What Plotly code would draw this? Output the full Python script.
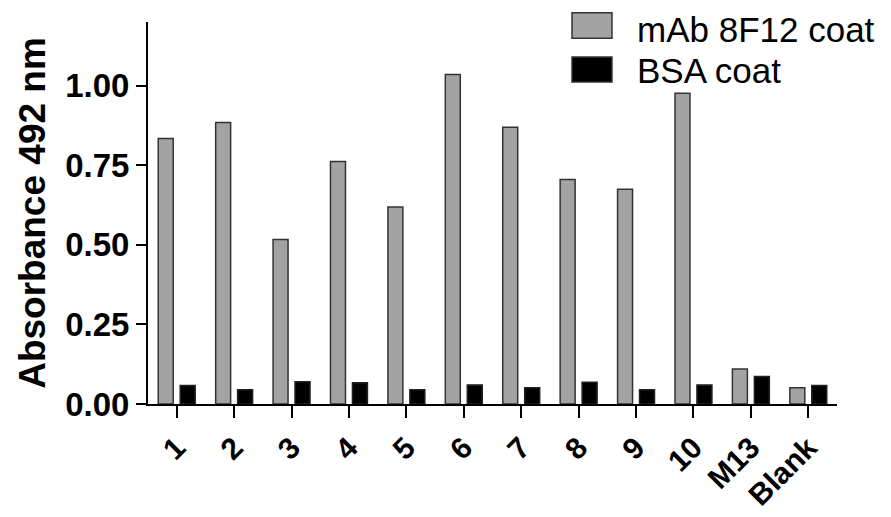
import plotly.graph_objects as go

categories = ["1", "2", "3", "4", "5", "6", "7", "8", "9", "10", "M13", "Blank"]
mab_8f12 = [0.834, 0.884, 0.517, 0.762, 0.619, 1.035, 0.869, 0.705, 0.675, 0.976, 0.110, 0.051]
bsa = [0.058, 0.045, 0.070, 0.067, 0.045, 0.060, 0.051, 0.068, 0.045, 0.060, 0.086, 0.058]
series_names = ["mAb 8F12 coat", "BSA coat"]
y_ticks = [0.0, 0.25, 0.5, 0.75, 1.0]

FONT = "Arial, Liberation Sans, sans-serif"
GRAY = "#a3a3a3"

fig = go.Figure()
fig.add_trace(go.Bar(x=categories, y=mab_8f12, name=series_names[0],
                     marker=dict(color=GRAY, line=dict(color="#333333", width=1.5))))
fig.add_trace(go.Bar(x=categories, y=bsa, name=series_names[1],
                     marker=dict(color="black", line=dict(color="#222222", width=1.5))))

fig.update_layout(
    width=883, height=509,
    margin=dict(l=140, r=54, t=14, b=113, autoexpand=False),
    paper_bgcolor="white", plot_bgcolor="white",
    barmode="group", bargap=0.235, bargroupgap=0.318,
    showlegend=False,
    font=dict(family=FONT, color="black"),
)
fig.update_xaxes(
    type="category", range=[-0.5, 11.5],
    showline=True, linecolor="black", linewidth=2,
    ticks="outside", ticklen=12, tickwidth=2, tickcolor="black",
    tickangle=-45, tickfont=dict(family=FONT, size=30, color="black", weight="bold"),
    showgrid=False, zeroline=False, automargin=False,
)
fig.update_yaxes(
    range=[0, 1.2], tickvals=y_ticks, tickformat=".2f",
    showline=True, linecolor="black", linewidth=2,
    ticks="outside", ticklen=10, tickwidth=2, tickcolor="black",
    tickfont=dict(family=FONT, size=33, color="black", weight="bold"),
    title=dict(text="Absorbance 492 nm", font=dict(family=FONT, size=37, color="black", weight="bold"), standoff=8),
    showgrid=False, zeroline=False, automargin=False,
)

# custom legend (large swatches like the original)
legend_items = [(series_names[0], GRAY, 1.0244, 0.9573, 0.9815),
                (series_names[1], "black", 0.9084, 0.8429, 0.8740)]
for name, col, y1, y0, ty in legend_items:
    fig.add_shape(type="rect", xref="paper", yref="paper", x0=0.6154, x1=0.6734, y0=y0, y1=y1,
                  fillcolor=col, line=dict(color="#333333", width=1.5))
    fig.add_annotation(xref="paper", yref="paper", x=0.7068, y=ty, text=name,
                       showarrow=False, xanchor="left", yanchor="middle",
                       font=dict(family=FONT, size=35, color="black"))

fig.write_html("out.html")
